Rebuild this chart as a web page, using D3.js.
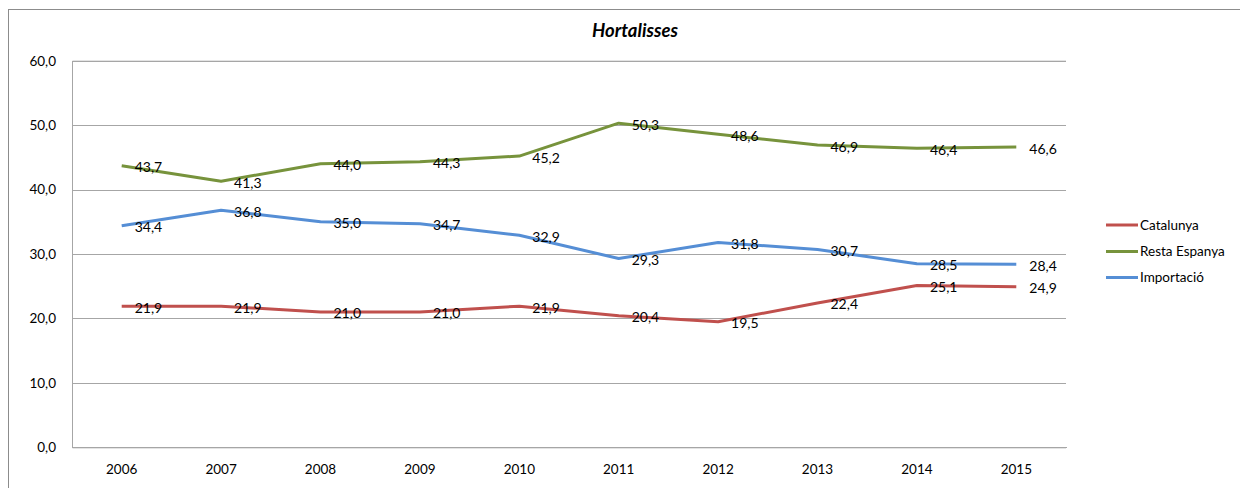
<!DOCTYPE html>
<html><head><meta charset="utf-8">
<script src="https://cdn.jsdelivr.net/npm/d3@7"></script>
<style>
html,body{margin:0;padding:0;background:#fff;}
svg{display:block;font-family:Lato,"Open Sans",sans-serif;}
</style></head>
<body>
<svg id="chart" width="1240" height="488"></svg>
<script>
const years = ["2006","2007","2008","2009","2010","2011","2012","2013","2014","2015"];
const catalunya = [21.9,21.9,21.0,21.0,21.9,20.4,19.5,22.4,25.1,24.9];
const restaEspanya = [43.7,41.3,44.0,44.3,45.2,50.3,48.6,46.9,46.4,46.6];
const importacio = [34.4,36.8,35.0,34.7,32.9,29.3,31.8,30.7,28.5,28.4];
const yTicks = [0,10,20,30,40,50,60];
const seriesNames = ["Catalunya","Resta Espanya","Importació"];
const seriesColors = ["#C0504D","#77933C","#558ED5"];
const chartTitle = "Hortalisses";

const series = [
  {name: seriesNames[0], values: catalunya, color: seriesColors[0]},
  {name: seriesNames[1], values: restaEspanya, color: seriesColors[1]},
  {name: seriesNames[2], values: importacio, color: seriesColors[2]}
];

const svg = d3.select("#chart");
const pLeft = 72, pRight = 1066, pTop = 60.7, pBottom = 447.3;
const loc = d3.formatLocale({decimal: ",", thousands: ".", grouping: [3], currency: ["", "€"]});
const fmt = loc.format(".1f");

const x = d3.scaleBand().domain(years).range([pLeft, pRight]).padding(0);
const y = d3.scaleLinear().domain([0, 60]).range([pBottom, pTop]);
const cx = d => x(d) + x.bandwidth() / 2;

// outer frame
svg.append("rect").attr("x", 8.5).attr("y", 9.5).attr("width", 1240).attr("height", 500)
  .attr("fill", "none").attr("stroke", "#8c8c8c").attr("stroke-width", 1);

// title
svg.append("text").attr("x", 635).attr("y", 37).attr("text-anchor", "middle")
  .attr("font-size", 18.5).attr("font-weight", "bold").attr("font-style", "italic")
  .attr("fill", "#000").text(chartTitle);

// y axis with gridlines
const yAxis = svg.append("g").attr("transform", `translate(${pLeft},0)`)
  .call(d3.axisLeft(y).tickValues(yTicks).tickFormat(fmt).tickSize(-(pRight - pLeft)).tickPadding(16));
yAxis.select(".domain").attr("stroke", "#a6a6a6");
yAxis.selectAll(".tick line").attr("stroke", "#a6a6a6").attr("shape-rendering", "crispEdges");
yAxis.selectAll(".tick text").attr("font-size", 13.5).attr("fill", "#000").attr("font-family", "Lato");

// x axis
const xAxis = svg.append("g").attr("transform", `translate(0,${pBottom})`)
  .call(d3.axisBottom(x).tickSize(0).tickPadding(17));
xAxis.select(".domain").attr("stroke", "#a6a6a6").attr("shape-rendering", "crispEdges");
xAxis.selectAll(".tick text").attr("font-size", 13.5).attr("fill", "#000").attr("font-family", "Lato");

// lines
const line = d3.line().x((d, i) => cx(years[i])).y(d => y(d));
series.forEach(s => {
  svg.append("path").datum(s.values).attr("d", line)
    .attr("fill", "none").attr("stroke", s.color).attr("stroke-width", 3)
    .attr("stroke-linejoin", "round");
});

// data labels
series.forEach(s => {
  svg.append("g").selectAll("text").data(s.values).join("text")
    .attr("x", (d, i) => cx(years[i]) + 13)
    .attr("y", d => y(d) + 6.5)
    .attr("font-size", 14).attr("fill", "#000")
    .text(d => fmt(d));
});

// legend
const legendY = [225, 251.5, 277.5];
series.forEach((s, i) => {
  const g = svg.append("g");
  g.append("line").attr("x1", 1106).attr("x2", 1138).attr("y1", legendY[i]).attr("y2", legendY[i])
    .attr("stroke", s.color).attr("stroke-width", 3);
  g.append("text").attr("x", 1140).attr("y", legendY[i] + 4.5).attr("font-size", 13.5)
    .attr("fill", "#000").text(s.name);
});
</script>
</body></html>
